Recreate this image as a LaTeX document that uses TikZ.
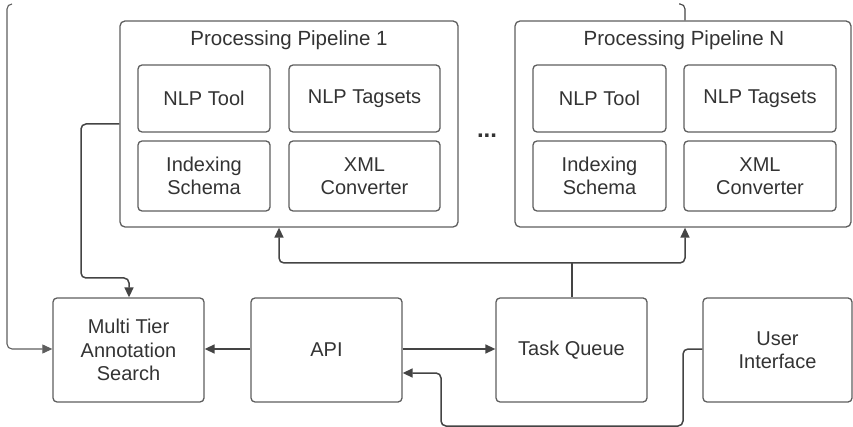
\documentclass[tikz,border=0pt]{standalone}
\usepackage{fontspec}
\setmainfont{Liberation Sans}
\usetikzlibrary{arrows.meta}
\definecolor{ink}{HTML}{333333}
\definecolor{edge}{HTML}{5E5E5E}
\definecolor{wire}{HTML}{444444}
\tikzset{
  box/.style={draw=edge, line width=1.3pt, rounded corners=4pt, inner sep=0pt,
    align=center, text=ink, font=\fontsize{20}{23.5}\selectfont},
  frame/.style={draw=edge, line width=1.3pt, rounded corners=5pt, inner sep=0pt},
  title/.style={text=ink, font=\fontsize{20.5}{24}\selectfont, inner sep=0pt},
  wirel/.style={draw=wire, line width=1.5pt, rounded corners=5pt},
  arr/.style={wirel, -{Triangle[length=10pt,width=9pt]}},
}
\begin{document}
\begin{tikzpicture}[x=1pt,y=-1pt]
\useasboundingbox (0,0) rectangle (853,427);

% processing pipelines
\node[frame, minimum width=338, minimum height=206] (p1) at (289,124) {};
\node[frame, minimum width=336, minimum height=206] (pn) at (683,124) {};
\node[title] (p1t) at (289,40) {Processing Pipeline 1};
\node[title] (pnt) at (684,40) {Processing Pipeline N};

% components of pipeline 1
\node[box, minimum width=132, minimum height=67] (tool1) at (204,98.5) {NLP Tool};
\node[box, minimum width=151, minimum height=67] (tags1) at (364.5,98.5) {NLP Tagsets};
\node[box, minimum width=132, minimum height=70] (idx1) at (204,176) {Indexing\\Schema};
\node[box, minimum width=151, minimum height=70] (xml1) at (364.5,176) {XML\\Converter};

% components of pipeline N
\node[box, minimum width=133, minimum height=67] (tooln) at (599.5,98.5) {NLP Tool};
\node[box, minimum width=152, minimum height=67] (tagsn) at (760,98.5) {NLP Tagsets};
\node[box, minimum width=133, minimum height=70] (idxn) at (599.5,176) {Indexing\\Schema};
\node[box, minimum width=152, minimum height=70] (xmln) at (760,176) {XML\\Converter};

\node[text=ink, font=\fontsize{24}{26}\selectfont\bfseries, inner sep=0pt] (dots) at (487,136) {...};

% lower row
\node[box, minimum width=151, minimum height=104] (mtas) at (128.5,350) {Multi Tier\\Annotation\\Search};
\node[box, minimum width=151, minimum height=104] (api) at (326.5,350) {API};
\node[box, minimum width=151, minimum height=104] (tq) at (571.5,350) {Task Queue};
\node[box, minimum width=149, minimum height=104] (ui) at (777.5,350) {User\\Interface};

% free ends and bends
\coordinate (lefttop) at (12,4);
\coordinate (topn) at (679,4);
\coordinate (split) at (572,263);

% pipeline 1 -> search
\draw[arr] (p1.west |- 0,124) -- (81,124) -- (81,278) -- (129,278) -- (mtas.north -| 129,0);
% incoming from the left
\draw[arr, line width=1.1pt, draw=edge] (lefttop) -- (7,4) -- (7,349) -- (mtas.west |- 0,349);
% API -> search, API -> task queue
\draw[arr] (api.west |- 0,349) -- (mtas.east |- 0,349);
\draw[arr] (api.east |- 0,349) -- (tq.west |- 0,349);
% user interface -> API
\draw[arr] (ui.west |- 0,349) -- (683,349) -- (683,426) -- (441,426) -- (441,373) -- (api.east |- 0,373);
% task queue -> pipelines
\draw[wirel] (tq.north -| split) -- (split);
\draw[arr] (split) -- (279,263) -- (p1.south -| 279,0);
\draw[arr] (split) -- (685,263) -- (pn.south -| 685,0);
% line leaving pipeline N at the top
\draw[wirel, line width=1.1pt] (topn) -- (685,4) -- (pn.north -| 685,0);
\end{tikzpicture}
\end{document}
